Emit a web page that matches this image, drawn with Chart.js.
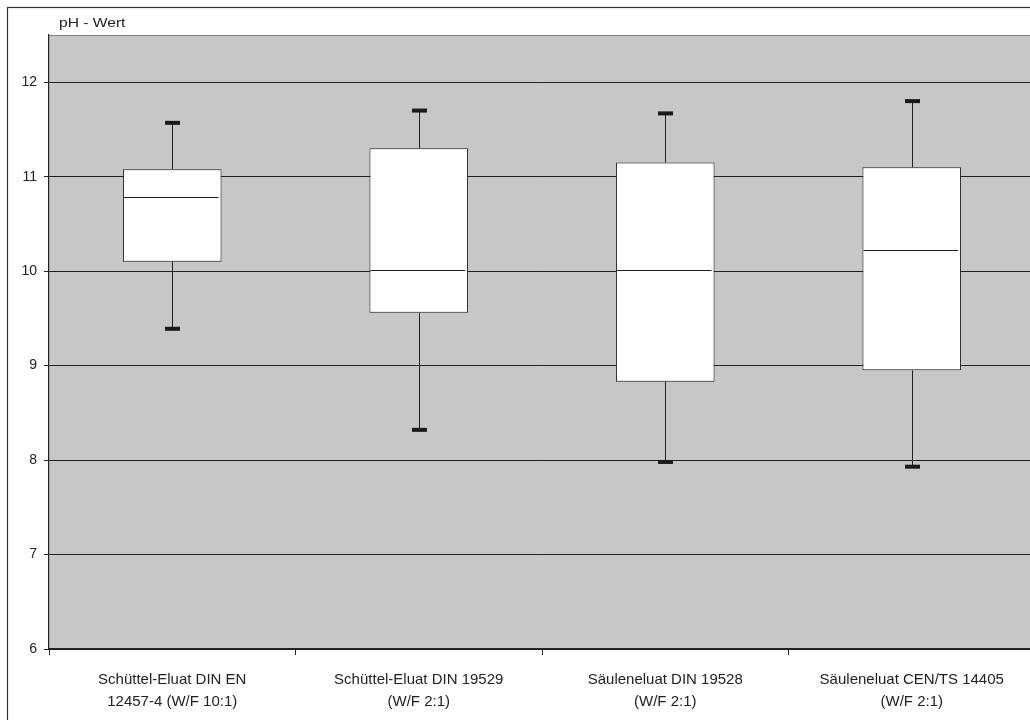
<!DOCTYPE html>
<html>
<head>
<meta charset="utf-8">
<title>pH - Wert</title>
<style>
  html, body { margin: 0; padding: 0; overflow: hidden; background: #ffffff; }
  #wrap { width: 1040px; height: 720px; position: relative; }
</style>
<script src="https://cdn.jsdelivr.net/npm/chart.js@4.4.1/dist/chart.umd.min.js"></script>
</head>
<body>
<div id="wrap"><canvas id="c" width="1040" height="720"></canvas></div>
<script>
// Leaching methods (two-line axis labels)
const categories = [
  ['Schüttel-Eluat DIN EN', '12457-4 (W/F 10:1)'],
  ['Schüttel-Eluat DIN 19529', '(W/F 2:1)'],
  ['Säuleneluat DIN 19528', '(W/F 2:1)'],
  ['Säuleneluat CEN/TS 14405', '(W/F 2:1)']
];
// Box-plot statistics of the pH value per method
const minValues    = [9.39, 8.32, 7.98, 7.93];
const q1Values     = [10.10, 9.56, 8.83, 8.95];
const medianValues = [10.78, 10.01, 10.01, 10.22];
const q3Values     = [11.08, 11.30, 11.15, 11.10];
const maxValues    = [11.57, 11.70, 11.67, 11.80];
// y-axis
const yTicks = [6, 7, 8, 9, 10, 11, 12];
const yMin = 6;
const yMax = 12.5;
const axisTitle = 'pH - Wert';

const FONT = '"Liberation Sans", Arial, sans-serif';
const INK = '#222222';

const boxPlotParts = {
  id: 'boxPlotParts',
  beforeDraw(chart) {
    const { ctx, chartArea: a } = chart;
    ctx.save();
    // outer frame
    ctx.strokeStyle = '#333333';
    ctx.lineWidth = 1.2;
    ctx.strokeRect(7.5, 7.5, 1200, 900);
    // plot background
    ctx.fillStyle = '#c6c7c9';
    ctx.fillRect(a.left, a.top, a.right - a.left, a.bottom - a.top);
    ctx.strokeStyle = '#808080';
    ctx.lineWidth = 1;
    ctx.beginPath();
    ctx.moveTo(a.left, Math.round(a.top) + 0.5);
    ctx.lineTo(a.right, Math.round(a.top) + 0.5);
    ctx.stroke();
    // axis title (slightly widened lettering)
    ctx.fillStyle = INK;
    ctx.font = '13px ' + FONT;
    ctx.textAlign = 'left';
    ctx.textBaseline = 'alphabetic';
    ctx.translate(59, 27);
    ctx.scale(1.2, 1);
    ctx.fillText(axisTitle, 0, 0);
    ctx.restore();
  },
  beforeDatasetsDraw(chart) {
    const { ctx, scales: { x, y } } = chart;
    ctx.save();
    ctx.strokeStyle = INK;
    ctx.fillStyle = '#1a1a1a';
    ctx.lineWidth = 1;
    categories.forEach((c, i) => {
      const cx = Math.round(x.getPixelForValue(i)) + 0.5;
      const yMaxPx = y.getPixelForValue(maxValues[i]);
      const yMinPx = y.getPixelForValue(minValues[i]);
      ctx.beginPath();
      ctx.moveTo(cx, y.getPixelForValue(q3Values[i]));
      ctx.lineTo(cx, yMaxPx);
      ctx.moveTo(cx, y.getPixelForValue(q1Values[i]));
      ctx.lineTo(cx, yMinPx);
      ctx.stroke();
      ctx.fillRect(cx - 7.5, yMaxPx - 2, 15, 4);
      ctx.fillRect(cx - 7.5, yMinPx - 2, 15, 4);
    });
    ctx.restore();
  },
  afterDatasetsDraw(chart) {
    const { ctx, scales: { y } } = chart;
    const meta = chart.getDatasetMeta(0);
    ctx.save();
    ctx.strokeStyle = INK;
    ctx.lineWidth = 1;
    meta.data.forEach((bar, i) => {
      const half = bar.width / 2;
      const my = Math.round(y.getPixelForValue(medianValues[i])) + 0.5;
      ctx.beginPath();
      ctx.moveTo(bar.x - half + 1, my);
      ctx.lineTo(bar.x + half - 3, my);
      ctx.stroke();
    });
    ctx.restore();
  }
};

new Chart(document.getElementById('c'), {
  type: 'bar',
  data: {
    labels: categories,
    datasets: [{
      data: q1Values.map((q, i) => [q, q3Values[i]]),
      backgroundColor: '#ffffff',
      borderColor: '#222222',
      borderWidth: 1,
      borderSkipped: false,
      categoryPercentage: 1,
      barPercentage: 0.4
    }]
  },
  options: {
    responsive: false,
    animation: false,
    devicePixelRatio: 1,
    layout: { padding: { top: 35, left: 0, right: 5, bottom: 0 } },
    plugins: { legend: { display: false }, tooltip: { enabled: false }, title: { display: false } },
    scales: {
      x: {
        type: 'category',
        grid: { offset: true, drawOnChartArea: false, tickLength: 6, color: '#222222' },
        border: { color: '#222222', width: 1.2 },
        ticks: {
          color: INK,
          font: { family: FONT, size: 15, lineHeight: 22 / 15 },
          padding: 14,
          maxRotation: 0,
          autoSkip: false
        },
        afterFit(scale) { scale.height = 71; }
      },
      y: {
        min: yMin,
        max: yMax,
        afterBuildTicks(scale) { scale.ticks = yTicks.map(v => ({ value: v })); },
        grid: { color: '#222222', lineWidth: 1, tickLength: 5 },
        border: { color: '#222222', width: 1.2 },
        ticks: {
          color: INK,
          font: { family: FONT, size: 14 },
          padding: 7
        },
        afterFit(scale) { scale.width = 49; }
      }
    }
  },
  plugins: [boxPlotParts]
});
</script>
</body>
</html>
